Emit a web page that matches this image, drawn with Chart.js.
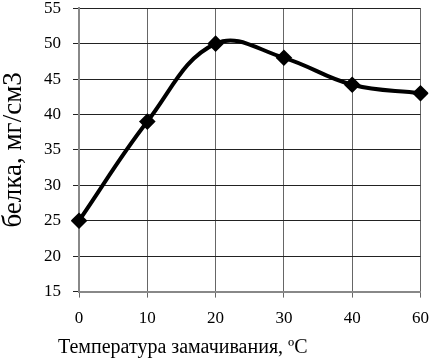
<!DOCTYPE html>
<html lang="ru">
<head>
<meta charset="utf-8" />
<title>Белок</title>
<script src="https://cdn.jsdelivr.net/npm/chart.js@4.4.0/dist/chart.umd.min.js"></script>
<style>
	html, body { margin: 0; padding: 0; background: #fff; overflow: hidden; }
	/* холст чуть больше окна, чтобы убрать лишние поля сверху и справа */
	#wrap { width: 440px; height: 373px; position: absolute; left: 0; top: -14px; }
</style>
</head>
<body>
<div id="wrap"><canvas id="chart"></canvas></div>
<script>
	// температура и содержание белка
	const temps = ['0', '10', '20', '30', '40', '60'];
	const protein = [25, 39, 50, 48, 44.2, 43];
	const yMin = 15, yMax = 55, yStep = 5;
	const xTitle = 'Температура замачивания, ºC';
	const yTitle = 'белка, мг/см3';

	const serif = '"Liberation Serif", "Times New Roman", serif';

	// подпись оси X нарисуем сами, она смещена влево
	const xTitlePlugin = {
		id: 'xTitle',
		afterDraw(chart) {
			const ctx = chart.ctx;
			ctx.save();
			ctx.font = '20px ' + serif;
			ctx.fillStyle = '#000';
			ctx.textAlign = 'left';
			ctx.textBaseline = 'middle';
			ctx.fillText(xTitle, 58, 362);
			ctx.restore();
		}
	};

	new Chart(document.getElementById('chart'), {
		type: 'line',
		data: {
			labels: temps,
			datasets: [{
				data: protein,
				borderColor: '#000',
				backgroundColor: '#000',
				borderWidth: 4,
				tension: 0.4,
				pointStyle: 'rectRot',
				pointRadius: 5.5,
				pointBackgroundColor: '#000',
				pointBorderColor: '#000',
				clip: 8
			}]
		},
		options: {
			responsive: true,
			maintainAspectRatio: false,
			animation: false,
			layout: { padding: { top: 0, right: 0, bottom: 19, left: 0 } },
			plugins: {
				legend: { display: false },
				tooltip: { enabled: false }
			},
			scales: {
				x: {
					offset: false,
					grid: { color: '#666', lineWidth: 1, tickLength: 6 },
					border: { color: '#888', width: 2 },
					ticks: { color: '#000', font: { family: serif, size: 17 }, padding: 11, maxRotation: 0 }
				},
				y: {
					min: yMin, max: yMax,
					grid: { color: '#222', lineWidth: 1, tickLength: 6 },
					border: { color: '#888', width: 2 },
					ticks: { stepSize: yStep, color: '#000', font: { family: serif, size: 17 }, padding: 12 },
					title: {
						display: true, text: yTitle, color: '#000',
						font: { family: serif, size: 27, lineHeight: 1 },
						padding: { top: 0, bottom: 5 }
					}
				}
			}
		},
		plugins: [xTitlePlugin]
	});
</script>
</body>
</html>
